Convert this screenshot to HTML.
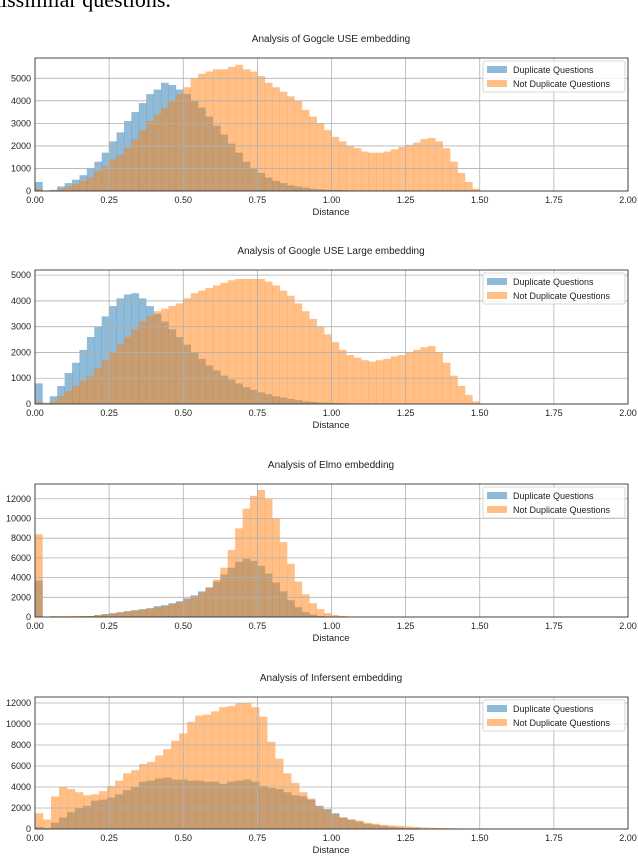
<!DOCTYPE html>
<html><head><meta charset="utf-8"><style>
body{margin:0;background:#fff;width:638px;height:854px;overflow:hidden;font-family:"Liberation Sans","DejaVu Sans",sans-serif}
</style></head><body>
<svg id="fig" width="638" height="854" xmlns="http://www.w3.org/2000/svg">
<text x="-10" y="7" font-family="Liberation Serif,serif" font-size="22" fill="#000">dissimilar questions.</text>
</svg>
<script>
const titles=["Analysis of Gogcle USE embedding","Analysis of Google USE Large embedding","Analysis of Elmo embedding","Analysis of Infersent embedding"];
const binWidths=[0.025,0.025,0.025,0.027];
const yTickVals=[[0,1000,2000,3000,4000,5000],[0,1000,2000,3000,4000,5000],[0,2000,4000,6000,8000,10000,12000],[0,2000,4000,6000,8000,10000,12000]];
const yTickLabels=[["0","1000","2000","3000","4000","5000"],["0","1000","2000","3000","4000","5000"],["0","2000","4000","6000","8000","10000","12000"],["0","2000","4000","6000","8000","10000","12000"]];
const yMaxes=[5900,5200,13500,12570];
const xTicks=[0,0.25,0.5,0.75,1.0,1.25,1.5,1.75,2.0];
const xTickLabels=["0.00","0.25","0.50","0.75","1.00","1.25","1.50","1.75","2.00"];
const dup1=[0.4,0,0.05,0.2,0.35,0.5,0.7,1.0,1.3,1.7,2.2,2.6,3.1,3.5,3.9,4.3,4.5,4.8,4.7,4.5,4.3,4.0,3.7,3.3,2.9,2.5,2.1,1.7,1.3,1.0,0.8,0.6,0.45,0.35,0.25,0.2,0.15,0.1,0.08,0.06,0.05,0.04,0.03,0.02,0.02,0.01];
const not1=[0.1,0,0.02,0.1,0.2,0.3,0.45,0.6,0.9,1.1,1.4,1.6,1.9,2.3,2.7,3.1,3.4,3.7,4.0,4.3,4.6,5.0,5.2,5.3,5.4,5.4,5.5,5.6,5.4,5.3,5.1,4.8,4.6,4.4,4.2,4.0,3.6,3.3,3.0,2.7,2.4,2.2,2.0,1.9,1.75,1.7,1.7,1.75,1.85,1.95,2.05,2.15,2.3,2.35,2.2,1.9,1.3,0.8,0.4,0.1];
const dup2=[0.8,0.05,0.3,0.7,1.2,1.6,2.1,2.6,3.0,3.4,3.8,4.1,4.25,4.3,4.1,3.8,3.5,3.2,2.9,2.6,2.3,2.0,1.75,1.5,1.3,1.1,0.95,0.8,0.65,0.55,0.45,0.38,0.3,0.25,0.2,0.15,0.1,0.08,0.06,0.05,0.04,0.03,0.02];
const not2=[0.1,0.02,0.1,0.3,0.5,0.7,0.9,1.1,1.4,1.7,2.0,2.3,2.6,2.9,3.2,3.4,3.6,3.7,3.8,3.9,4.1,4.3,4.4,4.5,4.6,4.7,4.8,4.85,4.85,4.85,4.85,4.75,4.6,4.4,4.2,3.9,3.6,3.3,3.0,2.7,2.4,2.1,1.9,1.8,1.7,1.65,1.7,1.75,1.85,1.9,2.0,2.1,2.2,2.25,2.0,1.6,1.1,0.7,0.35,0.1];
const dup3=[3.7,0,0,0.02,0.03,0.05,0.08,0.1,0.2,0.3,0.4,0.5,0.6,0.7,0.8,0.9,1.1,1.2,1.4,1.6,1.9,2.2,2.6,3.0,3.6,4.3,5.0,5.6,5.9,5.7,5.2,4.4,3.5,2.6,1.7,1.0,0.5,0.25,0.1,0.05,0.02];
const not3=[8.4,0.05,0.1,0.1,0.1,0.1,0.1,0.1,0.2,0.3,0.35,0.45,0.55,0.65,0.75,0.85,1.0,1.1,1.3,1.5,1.8,2.1,2.5,3.0,3.8,5.0,6.8,9.0,11.0,12.3,12.9,12.0,10.0,7.6,5.4,3.6,2.3,1.4,0.8,0.4,0.2,0.1,0.05,0.03];
const dup4=[0.2,0.1,0.6,1.1,1.6,2.0,2.2,2.7,2.8,3.0,3.3,3.7,4.0,4.5,4.6,4.8,4.9,4.7,4.7,4.6,4.6,4.5,4.5,4.3,4.5,4.6,4.7,4.5,4.1,3.9,3.8,3.5,3.2,3.1,2.8,2.2,1.9,1.5,1.1,0.9,0.7,0.5,0.4,0.3,0.2,0.15,0.1,0.08,0.05];
const not4=[1.5,0.9,3.1,4.0,3.8,3.5,3.2,3.3,3.6,4.1,4.6,5.3,5.6,6.2,6.4,7.0,7.6,8.4,9.1,10.2,10.8,10.9,11.2,11.6,11.7,12.0,12.0,11.6,10.7,8.3,6.7,5.3,4.4,3.5,2.9,2.2,1.8,1.4,1.1,0.9,0.8,0.6,0.5,0.4,0.35,0.3,0.25,0.2,0.15,0.12,0.1,0.08,0.06,0.05,0.04,0.03,0.02];
const dupSeries=[dup1,dup2,dup3,dup4];
const notSeries=[not1,not2,not3,not4];

const NS="http://www.w3.org/2000/svg";
const svg=document.getElementById('fig');
const panels=[[58,191],[270,404],[484,617],[697,829]];
const L=35,R=628;
function el(tag,attrs,parent){const e=document.createElementNS(NS,tag);for(const k in attrs)e.setAttribute(k,attrs[k]);(parent||svg).appendChild(e);return e;}
function xs(v){return L+v/2*(R-L);}
panels.forEach((p,i)=>{
  const [T,B]=p;
  const ys=v=>B-v/yMaxes[i]*(B-T);
  const g=el('g',{});
  
  
  const t=el('text',{x:331,y:T-16,'text-anchor':'middle','font-size':10,fill:'#222'},g);
  t.textContent=titles[i];
  
  
  const bw=binWidths[i];
  [[dupSeries[i],'#1f77b4','dup'],[notSeries[i],'#ff7f0e','notdup']].forEach(([arr,c,nm])=>{
    arr.forEach((v,k)=>{
      const val=v*1000; if(val<=0)return;
      const x0=xs(k*bw),x1=xs((k+1)*bw);
      const r=el('rect',{x:x0,y:ys(val),width:x1-x0+0.3,height:B-ys(val),fill:c,'fill-opacity':0.5},g);
      
      
    });
  });
  xTicks.forEach((v,k)=>{
    const gl=el('line',{x1:xs(v),x2:xs(v),y1:T,y2:B,stroke:'#b0b0b0','stroke-width':0.8},g);
    
    
    const tl=el('text',{x:xs(v),y:B+12,'text-anchor':'middle','font-size':9,fill:'#222'},g);
    tl.textContent=xTickLabels[k];
    
    
  });
  yTickVals[i].forEach((v,k)=>{
    const gl=el('line',{x1:L,x2:R,y1:ys(v),y2:ys(v),stroke:'#b0b0b0','stroke-width':0.8},g);
    
    
    const tl=el('text',{x:L-4,y:ys(v)+3,'text-anchor':'end','font-size':9,fill:'#222'},g);
    tl.textContent=yTickLabels[i][k];
    
    
  });
  const fr=el('rect',{x:L,y:T,width:R-L,height:B-T,fill:'none',stroke:'#222','stroke-width':0.8},g);
  
  
  const xl=el('text',{x:331,y:B+24,'text-anchor':'middle','font-size':9.5,fill:'#222'},g);
  xl.textContent='Distance';
  
  
  const lg=el('g',{},g);
  
  
  el('rect',{x:483,y:T+3,width:142,height:31,fill:'#fff','fill-opacity':0.8,stroke:'#ccc','stroke-width':0.8,rx:2},lg);
  [['Duplicate Questions','#1f77b4',T+12],['Not Duplicate Questions','#ff7f0e',T+26]].forEach(([lab,c,y])=>{
    el('rect',{x:487,y:y-4,width:20,height:7,fill:c,'fill-opacity':0.5},lg);
    const lt=el('text',{x:513,y:y+3,'font-size':9,fill:'#222'},lg);
    lt.textContent=lab;
    
    
  });
});
</script>
</body></html>
